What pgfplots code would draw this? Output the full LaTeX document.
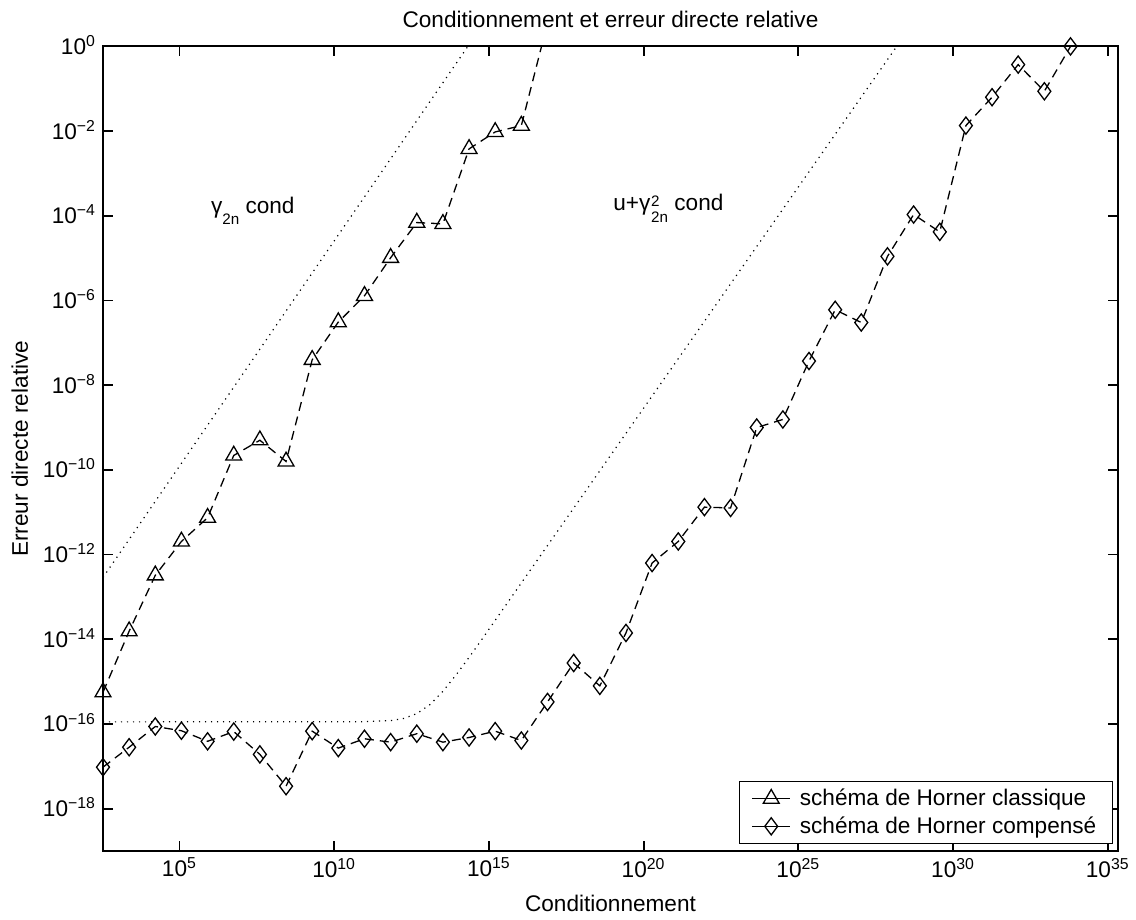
\documentclass[border=0pt]{standalone}
\usepackage{fontspec}
\setmainfont{Liberation Sans}
\usepackage{pgfplots}
\pgfplotsset{compat=1.18}

\newcommand{\dix}[1]{10\textsuperscript{#1}}
\newcommand{\petit}[1]{{\fontsize{7.6}{8}\selectfont #1}}

\begin{document}
\begin{tikzpicture}[font=\fontsize{11.3}{13.5}\selectfont]
\begin{axis}[
  at={(0,0)}, anchor=south west,
  scale only axis, width=507.5pt, height=402.3pt,
  xmode=log, ymode=log,
  xmin=3.39e2, xmax=2.14e35, ymin=1e-19, ymax=1,
  xtick={1e5,1e10,1e15,1e20,1e25,1e30,1e35},
  xticklabels={\dix{5},\dix{10},\dix{15},\dix{20},\dix{25},\dix{30},\dix{35}},
  ytick={1e-18,1e-16,1e-14,1e-12,1e-10,1e-8,1e-6,1e-4,1e-2,1},
  yticklabels={\dix{−18},\dix{−16},\dix{−14},\dix{−12},\dix{−10},\dix{−8},\dix{−6},\dix{−4},\dix{−2},\dix{0}},
  yticklabel style={anchor=base east, yshift=-4pt},
  xminorticks=false, yminorticks=false,
  tick align=inside, major tick length=5pt,
  tick style={black, line width=0.9pt},
  axis line style={line width=0.9pt},
  clip mode=individual,
  title={Conditionnement et erreur directe relative},
  every axis title/.style={at={(axis description cs:0.5,1.0236)}, anchor=base},
  xlabel={Conditionnement},
  every axis x label/.style={at={(axis description cs:0.5,-0.0758)}, anchor=base},
  ylabel={Erreur directe relative},
  every axis y label/.style={at={(axis description cs:-0.0739,0.5)}, rotate=90, anchor=base},
  legend style={at={(0.995,0.009)}, anchor=south east, draw=black, fill=white,
    line width=0.6pt, cells={anchor=west}, inner xsep=6pt, inner ysep=1.5pt,
    column sep=2.5pt},
  legend image code/.code={
    \draw[#1,solid,mark indices={2}] plot coordinates {(0pt,0pt) (9.5pt,0pt) (19pt,0pt)};
  },
]
% bornes en pointilles
\addplot[forget plot, black, line width=0.6pt, dash pattern=on 0.6pt off 2.4pt]
  coordinates {(3.39e2,2.88e-13) (2.09e14,1)};
\addplot[forget plot, black, line width=0.6pt, dash pattern=on 0.6pt off 2.4pt]
  coordinates {(3.39e2,1.12e-16) (9.55e10,1.13e-16) (6.68e11,1.20e-16) (1.78e12,1.35e-16)
  (4.68e12,1.75e-16) (1.26e13,2.88e-16) (3.27e13,5.91e-16) (8.71e13,1.44e-15)
  (2.29e14,3.74e-15) (6.03e14,1.01e-14) (1.60e15,2.80e-14) (1.12e16,2.14e-13) (1.51e28,1)};

% Horner classique
\addplot[black, line width=0.65pt, dash pattern=on 4.5pt off 3pt,
  mark=triangle, mark size=4.6pt, mark options={solid}, mark indices={1,...,17}]
  coordinates {
  (3.39e2,5.62e-16) (2.37e3,1.55e-14) (1.66e4,3.24e-13) (1.16e5,2.04e-12)
  (8.13e5,7.41e-12) (5.69e6,2.19e-10) (3.98e7,5.01e-10) (2.79e8,1.58e-10)
  (1.95e9,3.98e-8) (1.36e10,3.09e-7) (9.55e10,1.29e-6) (6.68e11,1.02e-5)
  (4.68e12,6.92e-5) (3.27e13,6.46e-5) (2.29e14,3.80e-3) (1.60e15,9.55e-3)
  (1.12e16,1.35e-2) (7.85e16,3.6)};
\addlegendentry{schéma de Horner classique}

% Horner compense
\addplot[black, line width=0.65pt, dash pattern=on 4.5pt off 3pt,
  mark=diamond, mark size=4.3pt, mark options={solid}]
  coordinates {
  (3.39e2,9.55e-18) (2.37e3,2.82e-17) (1.66e4,8.71e-17) (1.16e5,6.92e-17)
  (8.13e5,3.89e-17) (5.69e6,6.61e-17) (3.98e7,1.91e-17) (2.79e8,3.39e-18)
  (1.95e9,6.76e-17) (1.36e10,2.69e-17) (9.55e10,4.47e-17) (6.68e11,3.72e-17)
  (4.68e12,5.89e-17) (3.27e13,3.72e-17) (2.29e14,4.79e-17) (1.60e15,6.76e-17)
  (1.12e16,4.07e-17) (7.85e16,3.31e-16) (5.50e17,2.75e-15) (3.85e18,7.94e-16)
  (2.69e19,1.41e-14) (1.88e20,6.31e-13) (1.32e21,2.04e-12) (9.23e21,1.32e-11)
  (6.46e22,1.26e-11) (4.52e23,1.00e-9) (3.16e24,1.55e-9) (2.21e25,3.72e-8)
  (1.55e26,6.03e-7) (1.08e27,3.02e-7) (7.59e27,1.10e-5) (5.31e28,1.07e-4)
  (3.72e29,4.17e-5) (2.60e30,1.35e-2) (1.82e31,6.31e-2) (1.27e32,3.72e-1)
  (8.91e32,8.71e-2) (6.24e33,1.0)};
\addlegendentry{schéma de Horner compensé}

\node[anchor=base west, inner sep=0pt] at (axis cs:1.02e6,1.14e-4)
  {γ\raisebox{-5.5pt}{\petit{2n}} cond};
\node[anchor=base west, inner sep=0pt] at (axis cs:1.02e19,1.34e-4)
  {u+γ\kern0.4pt\rlap{\raisebox{2pt}{\petit{2}}}\raisebox{-6pt}{\petit{2n}} cond};
\end{axis}
\pgfresetboundingbox
\path[use as bounding box] (-51.5pt,-34.5pt) rectangle (516.5pt,425.5pt);
\end{tikzpicture}
\end{document}
